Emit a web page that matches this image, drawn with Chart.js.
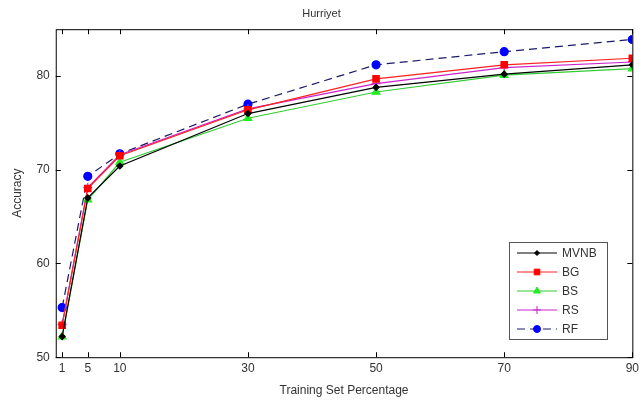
<!DOCTYPE html>
<html lang="en">
<head>
<meta charset="UTF-8">
<title>Hurriyet</title>
<script src="https://cdn.jsdelivr.net/npm/chart.js"></script>
<style>
    body { margin: 0; background: #fff; }
    #wrap { width: 643px; height: 403px; }
</style>
</head>
<body>
<div id="wrap"><canvas id="accChart" width="643" height="403"></canvas></div>
<script>
    // training set percentages (x values)
    const trainPct = [1, 5, 10, 30, 50, 70, 90];
    const xTicks = [1, 5, 10, 30, 50, 70, 90];
    const yTicks = [50, 60, 70, 80];

    // accuracy
    const mvnb = [52.2, 67.0, 70.4, 76.0, 78.8, 80.2, 81.2];
    const bg   = [53.4, 68.0, 71.5, 76.4, 79.7, 81.2, 81.9];
    const bs   = [52.2, 66.8, 70.8, 75.5, 78.3, 80.1, 80.8];
    const rs   = [53.5, 68.1, 71.6, 76.5, 79.2, 80.9, 81.5];
    const rf   = [55.3, 69.3, 71.7, 77.0, 81.2, 82.6, 83.9];

    const font = 'Arial, "Liberation Sans", sans-serif';

    function pts(arr) {
        return arr.map((v, i) => ({ x: trainPct[i], y: v }));
    }

    // MATLAB style: box, inward ticks, legend inside lower right
    const matlabBox = {
        id: 'matlabBox',
        afterDraw(chart) {
            const ctx = chart.ctx;
            const a = chart.chartArea;
            const xs = chart.scales.x, ys = chart.scales.y;
            ctx.save();
            ctx.strokeStyle = '#000';
            ctx.lineWidth = 1;
            ctx.strokeRect(a.left + 0.5, a.top + 0.5, a.right - a.left, a.bottom - a.top);
            ctx.beginPath();
            xTicks.forEach(t => {
                const px = Math.round(xs.getPixelForValue(t)) + 0.5;
                ctx.moveTo(px, a.bottom); ctx.lineTo(px, a.bottom - 5);
                ctx.moveTo(px, a.top); ctx.lineTo(px, a.top + 5);
            });
            yTicks.forEach(t => {
                const py = Math.round(ys.getPixelForValue(t)) + 0.5;
                ctx.moveTo(a.left, py); ctx.lineTo(a.left + 5, py);
                ctx.moveTo(a.right, py); ctx.lineTo(a.right - 5, py);
            });
            ctx.stroke();

            // legend
            const lx = 509, ly = 242, lw = 98, lh = 97;
            ctx.fillStyle = '#fff';
            ctx.fillRect(lx, ly, lw, lh);
            ctx.strokeStyle = '#555';
            ctx.strokeRect(lx + 0.5, ly + 0.5, lw, lh);
            chart.data.datasets.forEach((ds, i) => {
                const y = ly + 11 + i * 19;
                ctx.strokeStyle = ds.borderColor;
                ctx.lineWidth = 1;
                ctx.setLineDash(ds.borderDash || []);
                ctx.beginPath();
                ctx.moveTo(lx + 8, y); ctx.lineTo(lx + 48, y);
                ctx.stroke();
                ctx.setLineDash([]);
                ctx.fillStyle = ds.pointBackgroundColor;
                ctx.strokeStyle = ds.pointBorderColor;
                Chart.helpers.drawPoint(ctx, {
                    pointStyle: ds.pointStyle,
                    radius: ds.pointRadius - 0.5,
                    rotation: 0,
                    borderWidth: 1
                }, lx + 28, y);
                ctx.fillStyle = '#333';
                ctx.font = '12px ' + font;
                ctx.textBaseline = 'middle';
                ctx.fillText(ds.label, lx + 53, y + 1);
            });
            ctx.restore();
        }
    };

    const ctx = document.getElementById('accChart').getContext('2d');
    new Chart(ctx, {
        type: 'line',
        data: {
            datasets: [
                { label: 'MVNB', data: pts(mvnb), borderColor: '#000', pointStyle: 'rectRot', pointRadius: 3,
                  pointBackgroundColor: '#000', pointBorderColor: '#000' },
                { label: 'BG', data: pts(bg), borderColor: '#ff2020', pointStyle: 'rect', pointRadius: 4.5,
                  pointBackgroundColor: '#ff0000', pointBorderColor: '#ff0000' },
                { label: 'BS', data: pts(bs), borderColor: '#33cc33', pointStyle: 'triangle', pointRadius: 4.5,
                  pointBackgroundColor: '#22ee22', pointBorderColor: '#22ee22' },
                { label: 'RS', data: pts(rs), borderColor: '#cc22cc', pointStyle: 'cross', pointRadius: 4.5,
                  pointBackgroundColor: '#cc22cc', pointBorderColor: '#cc22cc' },
                { label: 'RF', data: pts(rf), borderColor: '#1a1a66', borderDash: [8, 5], pointStyle: 'circle', pointRadius: 4,
                  pointBackgroundColor: '#0000ff', pointBorderColor: '#0000ff' }
            ].map(d => Object.assign({ borderWidth: 1.2, fill: false, tension: 0 }, d))
        },
        options: {
            responsive: false,
            animation: false,
            layout: { padding: { left: 10, right: 10, top: 4, bottom: 5 } },
            plugins: {
                legend: { display: false },
                tooltip: { enabled: false },
                title: {
                    display: true,
                    text: 'Hurriyet',
                    color: '#333',
                    font: { family: font, size: 11, weight: 'normal' },
                    padding: { top: 3, bottom: 9 }
                }
            },
            scales: {
                x: {
                    type: 'linear',
                    min: 0,
                    max: 90,
                    afterBuildTicks: axis => { axis.ticks = xTicks.map(v => ({ value: v })); },
                    grid: { display: false, drawTicks: false },
                    border: { display: false },
                    ticks: { color: '#333', padding: 4, maxRotation: 0, font: { family: font, size: 12 } },
                    title: { display: true, text: 'Training Set Percentage', color: '#333',
                             font: { family: font, size: 12 }, padding: { top: 4, bottom: 0 } }
                },
                y: {
                    min: 50,
                    max: 85,
                    afterBuildTicks: axis => { axis.ticks = yTicks.map(v => ({ value: v })); },
                    grid: { display: false, drawTicks: false },
                    border: { display: false },
                    ticks: { color: '#333', padding: 6, font: { family: font, size: 12 } },
                    title: { display: true, text: 'Accuracy', color: '#333',
                             font: { family: font, size: 12 }, padding: { top: 0, bottom: 6 } }
                }
            }
        },
        plugins: [matlabBox]
    });
</script>
</body>
</html>
